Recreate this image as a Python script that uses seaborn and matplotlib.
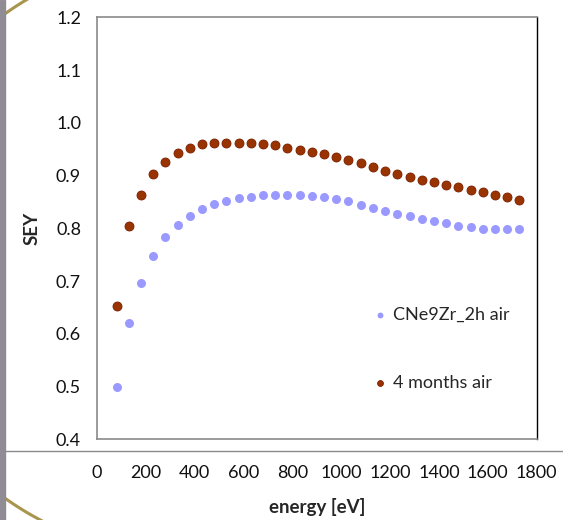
import numpy as np
import pandas as pd
import matplotlib.pyplot as plt
from matplotlib.lines import Line2D
from matplotlib.patches import Rectangle
import seaborn as sns

# energy axis (eV) and measured SEY of the two samples
energia = [80, 130, 180, 230, 280, 330, 380, 430, 480, 530, 580, 630, 680, 730,
           780, 830, 880, 930, 980, 1030, 1080, 1130, 1180, 1230, 1280, 1330,
           1380, 1430, 1480, 1530, 1580, 1630, 1680, 1730]
sey_2h = [0.499, 0.620, 0.696, 0.748, 0.783, 0.806, 0.823, 0.836, 0.846, 0.852,
          0.858, 0.860, 0.863, 0.864, 0.864, 0.864, 0.862, 0.859, 0.855, 0.851,
          0.845, 0.839, 0.833, 0.828, 0.823, 0.818, 0.814, 0.810, 0.805, 0.802,
          0.798, 0.798, 0.798, 0.798]
sey_4m = [0.652, 0.804, 0.864, 0.902, 0.926, 0.943, 0.953, 0.959, 0.962, 0.962,
          0.962, 0.961, 0.959, 0.957, 0.953, 0.949, 0.945, 0.940, 0.936, 0.929,
          0.923, 0.916, 0.909, 0.903, 0.897, 0.892, 0.888, 0.883, 0.878, 0.873,
          0.869, 0.864, 0.859, 0.854]
rotulos = ['CNe9Zr_2h air', '4 months air']
cores = ['#9999FF', '#993300']

df_2h = pd.DataFrame({'energy': energia, 'SEY': sey_2h})
df_4m = pd.DataFrame({'energy': energia, 'SEY': sey_4m})

sns.set_style('white')
plt.rcParams['font.family'] = ['Lato', 'DejaVu Sans']

fig = plt.figure(figsize=(5.63, 5.2), dpi=100)
W, H = 563, 520

# decoracao do slide: barra cinza, arco dourado e linha horizontal
t = np.linspace(np.radians(112), np.radians(248), 200)
cx, cy, r = 178.6, 264, 298
fig.add_artist(Line2D((cx + r * np.cos(t)) / W, (cy + r * np.sin(t)) / H,
                      transform=fig.transFigure, color='#A8964E', lw=2.2, zorder=0))
fig.add_artist(Rectangle((0, 0), 5 / W, 1, transform=fig.transFigure,
                         color='#8F8C96', zorder=1))
fig.add_artist(Line2D([5 / W, 1], [69 / H, 69 / H], transform=fig.transFigure,
                      color='#8A8A8A', lw=1, zorder=1))

ax = fig.add_axes([97 / W, 1 - 439.3 / H, 439.5 / W, 422 / H])
ax.patch.set_alpha(0)

sns.scatterplot(data=df_2h, x='energy', y='SEY', ax=ax, color=cores[0], s=42,
                linewidth=0, label=rotulos[0])
sns.scatterplot(data=df_4m, x='energy', y='SEY', ax=ax, color=cores[1], s=42,
                edgecolor='#7A1E00', linewidth=0.6, label=rotulos[1])

ax.set_xlim(0, 1800)
ax.set_ylim(0.4, 1.2)
ax.set_xticks(range(0, 1801, 200))
ax.set_yticks(np.arange(0.4, 1.21, 0.1))
ax.yaxis.set_major_formatter(plt.FormatStrFormatter('%.1f'))
ax.tick_params(axis='both', direction='out', length=4.5, width=1, color='#8A8A8A',
               labelsize=13, labelcolor='#111111')
ax.tick_params(axis='x', pad=14)
ax.tick_params(axis='y', pad=7)
for lado in ['left', 'bottom', 'top']:
    ax.spines[lado].set_color('#8A8A8A')
    ax.spines[lado].set_linewidth(1.2)
ax.spines['right'].set_color('black')
ax.spines['right'].set_linewidth(1)

ax.set_xlabel('energy [eV]', fontsize=13.5, fontweight='bold', labelpad=12)
ax.set_ylabel('SEY', fontsize=13.5, fontweight='bold', labelpad=11)

ax.legend(loc='center left', bbox_to_anchor=(0.607, 0.215), frameon=False,
          fontsize=13, handlelength=0.75, handletextpad=0.35, labelspacing=2.9,
          borderpad=0, markerscale=0.65)

fig.savefig('out.png', dpi=100)
